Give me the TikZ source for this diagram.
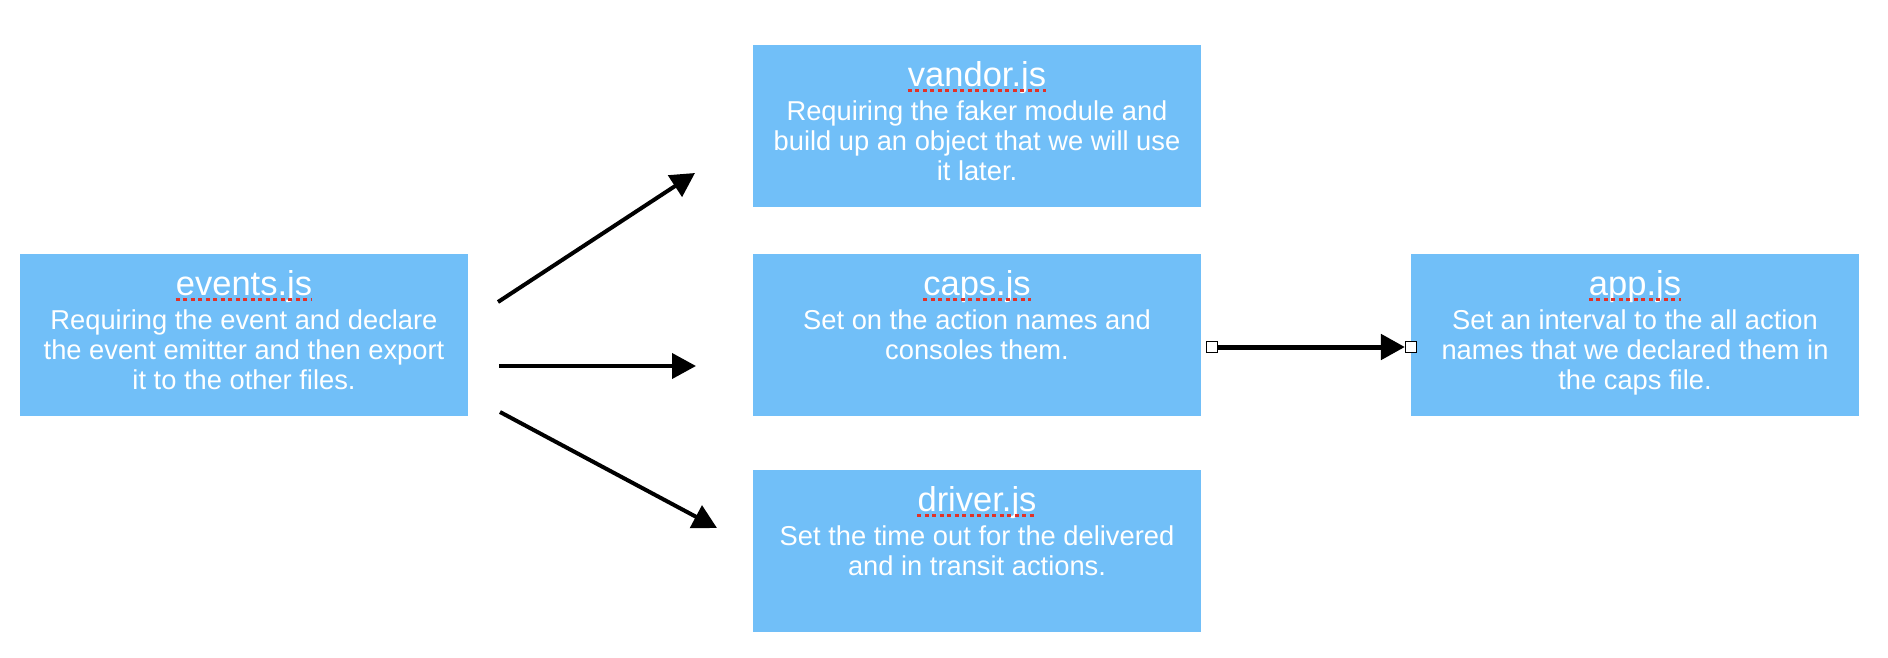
\documentclass[tikz,border=0pt]{standalone}
\usepackage{fontspec}
\setmainfont{Liberation Sans}
\usetikzlibrary{arrows.meta}
\definecolor{boxblue}{RGB}{113,191,248}
\definecolor{spellred}{RGB}{226,50,40}
\tikzset{
	filebox/.style={fill=boxblue, minimum width=448pt, minimum height=162pt, inner sep=0pt},
	filename/.style={text=white, font=\fontsize{34.5}{36}\selectfont, inner sep=0pt, anchor=base},
	filetext/.style={text=white, font=\fontsize{27.3}{30}\selectfont, align=center, inner sep=0pt, anchor=north},
	spell/.style={spellred, line width=3.5pt, dash pattern=on 4pt off 3.5pt},
	link/.style={line width=4pt, -{Triangle[length=24pt,width=25pt]}},
	handle/.style={draw=black, fill=white, line width=0.8pt, minimum size=11pt, inner sep=0pt}
}
\begin{document}
\begin{tikzpicture}[x=1pt, y=-1pt]
		%%%%% START %%%%%
		\useasboundingbox (0, 0) rectangle (1888, 658);
		
		\node[filebox] (events) at (244, 335) {};
		\node[filename] (events-name) at ([yshift=-42pt]events.north) {events.js};
		\node[filetext] (events-text) at ([yshift=-55.5pt]events.north) {Requiring the event and declare\\the event emitter and then export\\it to the other files.};
		\draw[spell] ([yshift=-3.5pt]events-name.base west) -- ([yshift=-3.5pt]events-name.base east);
		
		\node[filebox] (vandor) at (977, 126) {};
		\node[filename] (vandor-name) at ([yshift=-42pt]vandor.north) {vandor.js};
		\node[filetext] (vandor-text) at ([yshift=-55.5pt]vandor.north) {Requiring the faker module and\\build up an object that we will use\\it later.};
		\draw[spell] ([yshift=-3.5pt]vandor-name.base west) -- ([yshift=-3.5pt]vandor-name.base east);
		
		\node[filebox] (caps) at (977, 335) {};
		\node[filename] (caps-name) at ([yshift=-42pt]caps.north) {caps.js};
		\node[filetext] (caps-text) at ([yshift=-55.5pt]caps.north) {Set on the action names and\\consoles them.};
		\draw[spell] ([yshift=-3.5pt]caps-name.base west) -- ([yshift=-3.5pt]caps-name.base east);
		
		\node[filebox] (driver) at (977, 551) {};
		\node[filename] (driver-name) at ([yshift=-42pt]driver.north) {driver.js};
		\node[filetext] (driver-text) at ([yshift=-55.5pt]driver.north) {Set the time out for the delivered\\and in transit actions.};
		\draw[spell] ([yshift=-3.5pt]driver-name.base west) -- ([yshift=-3.5pt]driver-name.base east);
		
		\node[filebox] (app) at (1635, 335) {};
		\node[filename] (app-name) at ([yshift=-42pt]app.north) {app.js};
		\node[filetext] (app-text) at ([yshift=-55.5pt]app.north) {Set an interval to the all action\\names that we declared them in\\the caps file.};
		\draw[spell] ([yshift=-3.5pt]app-name.base west) -- ([yshift=-3.5pt]app-name.base east);
		
		\coordinate (events-up) at (498, 302);
		\coordinate (vandor-in) at (695, 173);
		\coordinate (events-mid) at (499, 366);
		\coordinate (caps-in) at (696, 366);
		\coordinate (events-down) at (500, 412);
		\coordinate (driver-in) at (717, 528);
		
		\draw[link] (events-up) -- (vandor-in);
		\draw[link] (events-mid) -- (caps-in);
		\draw[link] (events-down) -- (driver-in);
		
		\node[handle] (caps-out) at ([xshift=11pt, yshift=-12pt]caps.east) {};
		\node[handle] (app-in) at ([yshift=-12pt]app.west) {};
		\draw[link, line width=5pt] (caps-out) -- (app-in);
		
		%%%%% END %%%%%
\end{tikzpicture}
\end{document}
